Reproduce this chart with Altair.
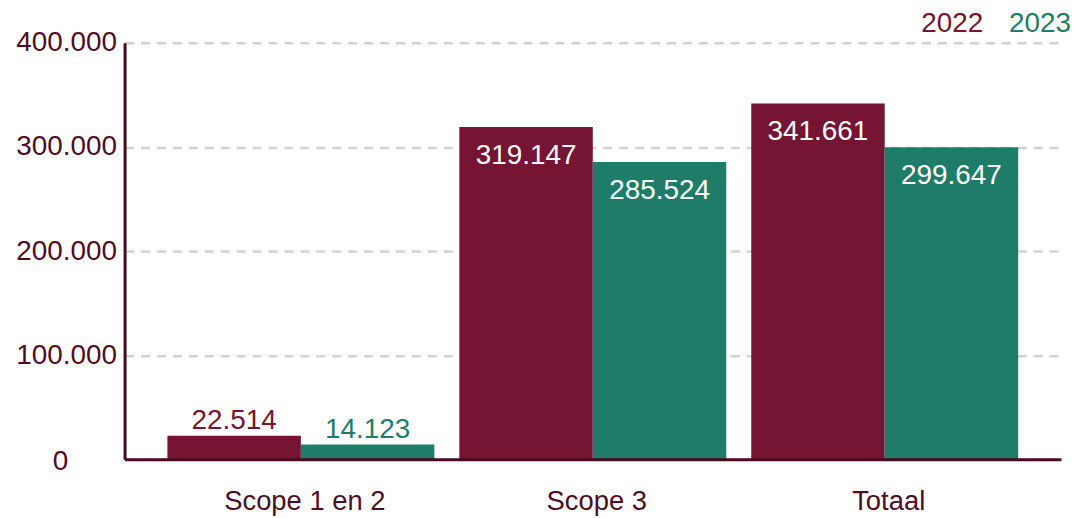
import altair as alt
import pandas as pd

categories = ["Scope 1 en 2", "Scope 3", "Totaal"]
years = ["2022", "2023"]
values_2022 = [22514, 319147, 341661]
values_2023 = [14123, 285524, 299647]
colors = ["#751433", "#1f7c68"]
y_ticks = [0, 100000, 200000, 300000, 400000]

FONT = "Liberation Sans"
TEXT_COLOR = "#4f0c25"
AXIS_COLOR = "#480a1e"

rows = []
for c, a, b in zip(categories, values_2022, values_2023):
    rows.append({"cat": c, "year": years[0], "value": a})
    rows.append({"cat": c, "year": years[1], "value": b})
df = pd.DataFrame(rows)
df["label"] = df["value"].map(lambda v: f"{v:,}".replace(",", "."))

x = alt.X(
    "cat:N",
    sort=categories,
    scale=alt.Scale(paddingInner=0.0856, paddingOuter=0.1468),
    axis=alt.Axis(
        title=None,
        labelAngle=0,
        labelFontSize=27.5,
        labelFont=FONT,
        labelColor=TEXT_COLOR,
        labelBaseline="alphabetic",
        labelPadding=50,
        labelOffset=4,
        ticks=False,
        domain=True,
        domainColor=AXIS_COLOR,
        domainWidth=3,
        grid=False,
        zindex=1,
    ),
)
xo = alt.XOffset("year:N", sort=years, scale=alt.Scale(paddingInner=0, paddingOuter=0))
y = alt.Y(
    "value:Q",
    scale=alt.Scale(domain=[0, 400000], nice=False),
    axis=alt.Axis(
        title=None,
        values=y_ticks,
        labelExpr="replace(format(datum.value, ','), ',', '.')",
        labelFontSize=28,
        labelFont=FONT,
        labelColor=TEXT_COLOR,
        labelAlign="right",
        labelBaseline="middle",
        labelPadding={"condition": {"test": "datum.value == 0", "value": 57}, "value": 8},
        labelOffset={"condition": {"test": "datum.value == 0", "value": 2}, "value": 0},
        ticks=False,
        domain=True,
        domainColor=AXIS_COLOR,
        domainWidth=3,
        grid=True,
        gridColor="#d2d2d2",
        gridWidth=2.5,
        gridDash=[9, 7],
    ),
)
color = alt.Color("year:N", scale=alt.Scale(domain=years, range=colors), legend=None)

base = alt.Chart(df)

bars = base.mark_bar().encode(x=x, xOffset=xo, y=y, color=color)

inside = base.transform_filter("datum.value > 50000").mark_text(
    color="white", baseline="alphabetic", dy=37, fontSize=28, font=FONT
).encode(x=x, xOffset=xo, y=y, text="label:N")

above = base.transform_filter("datum.value <= 50000").mark_text(
    baseline="alphabetic", dy=-7, fontSize=28, font=FONT
).encode(x=x, xOffset=xo, y=y, text="label:N", color=color)

one = pd.DataFrame({"k": [0]})
leg1 = alt.Chart(one).mark_text(
    text=years[0], color=colors[0], align="right", baseline="alphabetic", fontSize=28, font=FONT
).encode(x=alt.value(862), y=alt.value(-11))
leg2 = alt.Chart(one).mark_text(
    text=years[1], color=colors[1], align="right", baseline="alphabetic", fontSize=28, font=FONT
).encode(x=alt.value(950), y=alt.value(-11))

chart = (
    alt.layer(bars, inside, above, leg1, leg2)
    .properties(
        width=940,
        height=418,
        autosize=alt.AutoSizeParams(type="none"),
        padding={"left": 117, "top": 34, "right": 10, "bottom": 58},
    )
    .configure(font=FONT)
    .configure_view(stroke=None)
)

chart.save("out.html", embed_options={"renderer": "svg", "actions": False})
